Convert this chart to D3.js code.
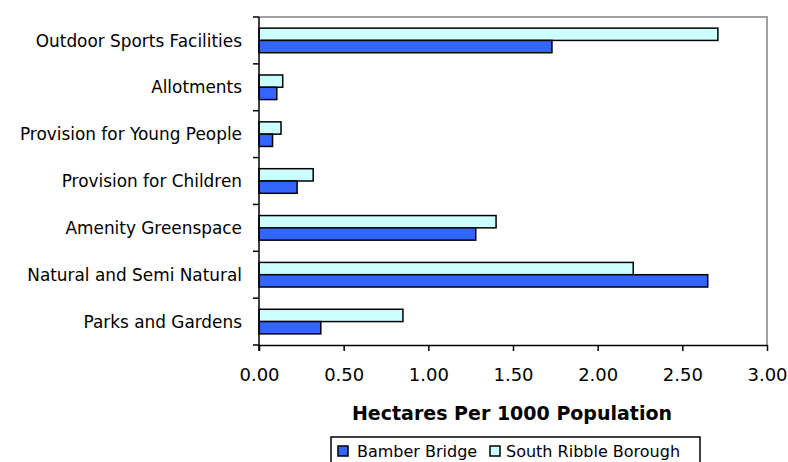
<!DOCTYPE html>
<html>
<head>
<meta charset="utf-8">
<script src="https://cdn.jsdelivr.net/npm/d3@7"></script>
<style>
  html, body { margin: 0; padding: 0; background: #fff; }
  svg { display: block; }
  text { font-family: "DejaVu Sans", sans-serif; fill: #000; }
</style>
</head>
<body>
<svg id="chart" width="788" height="462"></svg>
<script>
const categories = [
  "Outdoor Sports Facilities",
  "Allotments",
  "Provision for Young People",
  "Provision for Children",
  "Amenity Greenspace",
  "Natural and Semi Natural",
  "Parks and Gardens"
];
const seriesNames = ["South Ribble Borough", "Bamber Bridge"];
const southRibble = [2.71, 0.14, 0.13, 0.32, 1.40, 2.21, 0.85];
const bamberBridge = [1.73, 0.105, 0.08, 0.225, 1.28, 2.65, 0.365];
const xTicks = [0, 0.5, 1.0, 1.5, 2.0, 2.5, 3.0];
const axisTitle = "Hectares Per 1000 Population";
const legendNames = ["Bamber Bridge", "South Ribble Borough"];
const colors = { "Bamber Bridge": "#3366ff", "South Ribble Borough": "#ccffff" };

const svg = d3.select("#chart");
const pLeft = 259, pRight = 767, pTop = 17, pBottom = 345;

const x = d3.scaleLinear().domain([0, 3]).range([pLeft, pRight]);
const y = d3.scaleBand().domain(categories).range([pTop, pBottom])
  .paddingInner(0.475).paddingOuter(0.2375);
const ySub = d3.scaleBand().domain(seriesNames).range([0, y.bandwidth()]);

// plot area border (top & right)
svg.append("path")
  .attr("d", `M${pLeft},${pTop}H${pRight}V${pBottom}`)
  .attr("fill", "none").attr("stroke", "#a0a0a0").attr("stroke-width", 2);

const data = {
  "South Ribble Borough": southRibble,
  "Bamber Bridge": bamberBridge
};

seriesNames.forEach(s => {
  svg.append("g").selectAll("rect")
    .data(categories.map((c, i) => ({ c, v: data[s][i] })))
    .join("rect")
    .attr("x", x(0))
    .attr("y", d => y(d.c) + ySub(s))
    .attr("width", d => x(d.v) - x(0))
    .attr("height", ySub.bandwidth())
    .attr("fill", colors[s])
    .attr("stroke", "#000")
    .attr("stroke-width", 1.5);
});

// X axis
const xAxis = svg.append("g")
  .attr("transform", `translate(0,${pBottom})`)
  .call(d3.axisBottom(x).tickValues(xTicks).tickFormat(d3.format(".2f"))
    .tickSizeInner(6).tickSizeOuter(0).tickPadding(17));
xAxis.select(".domain").attr("stroke", "#000").attr("stroke-width", 1.5);
xAxis.selectAll(".tick line").attr("stroke", "#000").attr("stroke-width", 1.5);
xAxis.selectAll(".tick text")
  .attr("font-size", "18px").attr("font-family", "DejaVu Sans, sans-serif")
  .attr("fill", "#000");

// Y axis: ticks between categories
const yAxisG = svg.append("g");
yAxisG.append("line")
  .attr("x1", pLeft).attr("x2", pLeft).attr("y1", pTop).attr("y2", pBottom + 6)
  .attr("stroke", "#000").attr("stroke-width", 1.5);
const boundaries = categories.map(c => y(c) - (y.step() - y.bandwidth()) / 2);
boundaries.push(pBottom);
yAxisG.selectAll("line.tk").data(boundaries).join("line")
  .attr("class", "tk")
  .attr("x1", pLeft - 6).attr("x2", pLeft)
  .attr("y1", d => d).attr("y2", d => d)
  .attr("stroke", "#000").attr("stroke-width", 1.5);
yAxisG.selectAll("text").data(categories).join("text")
  .attr("x", 242)
  .attr("y", d => y(d) + y.bandwidth() / 2)
  .attr("dy", "0.36em")
  .attr("text-anchor", "end")
  .attr("font-size", "16.9px")
  .text(d => d);

// Axis title
svg.append("text")
  .attr("x", 512).attr("y", 420)
  .attr("text-anchor", "middle")
  .attr("font-size", "19px").attr("font-weight", "bold")
  .text(axisTitle);

// Legend
const lg = svg.append("g");
lg.append("rect").attr("x", 331).attr("y", 437).attr("width", 369).attr("height", 26)
  .attr("fill", "#fff").attr("stroke", "#000").attr("stroke-width", 1.5);
const legendPos = [{ sx: 338, tx: 357 }, { sx: 490, tx: 506 }];
legendNames.forEach((n, i) => {
  lg.append("rect").attr("x", legendPos[i].sx).attr("y", 446).attr("width", 10).attr("height", 10)
    .attr("fill", colors[n]).attr("stroke", "#000").attr("stroke-width", 1.5);
  lg.append("text").attr("x", legendPos[i].tx).attr("y", 457)
    .attr("font-size", "16px").text(n);
});
</script>
</body>
</html>
